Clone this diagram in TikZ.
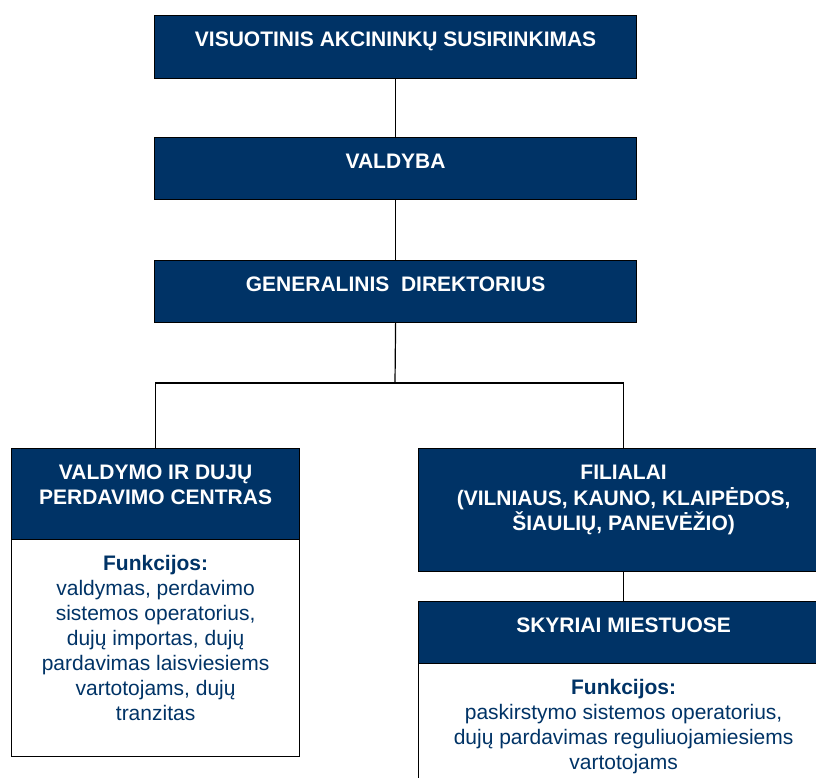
\documentclass[tikz,border=0pt]{standalone}
\usepackage{fontspec}
\setmainfont{Liberation Sans}
\usepackage{xcolor}
\usetikzlibrary{positioning}
\definecolor{cNavy}{RGB}{0,51,102}

% text block of fixed size, set from the top
\newcommand{\boxtext}[3]{\parbox[t][#2][t]{#1}{\centering\vspace{13pt}\strut#3}}

\tikzset{
  hdr/.style={draw=black, line width=1.2pt, fill=cNavy, text=white,
    font=\bfseries\fontsize{21}{25}\selectfont, inner sep=0pt, anchor=north west},
  fbody/.style={draw=black, line width=1.2pt, fill=white, text=cNavy,
    font=\fontsize{21}{25}\selectfont, inner sep=0pt, anchor=north west},
  link/.style={line width=1.2pt}
}

\begin{document}
\begin{tikzpicture}[x=1pt,y=-1pt]
        \useasboundingbox (0,0) rectangle (816,778);
        \clip (0,0) rectangle (816,778);
        % top of the company
        \node[hdr] (vas) at (154,15) {\boxtext{482pt}{63pt}{VISUOTINIS AKCININKŲ SUSIRINKIMAS}};
        \node[hdr] (valdyba) at (154,137) {\boxtext{482pt}{62pt}{VALDYBA}};
        \node[hdr] (gendir) at (154,260) {\boxtext{482pt}{62pt}{GENERALINIS\ \ DIREKTORIUS}};
        \draw[link] (vas.south) -- (valdyba.north);
        \draw[link] (valdyba.south) -- (gendir.north);
        % left branch
        \node[hdr] (centras) at (11,448) {\boxtext{288pt}{91pt}{VALDYMO IR DUJŲ\\PERDAVIMO CENTRAS}};
        \node[fbody] (centrasf) at (11,539) {\boxtext{288pt}{217pt}{\textbf{Funkcijos:}\\valdymas, perdavimo\\sistemos operatorius,\\dujų importas, dujų\\pardavimas laisviesiems\\vartotojams, dujų\\tranzitas}};
        % right branch
        \node[hdr] (filialai) at (418,448) {\boxtext{410pt}{123pt}{FILIALAI\\(VILNIAUS, KAUNO, KLAIPĖDOS,\\ŠIAULIŲ, PANEVĖŽIO)}};
        \node[hdr] (skyriai) at (418,601) {\boxtext{410pt}{62pt}{SKYRIAI MIESTUOSE}};
        \node[fbody] (skyriaif) at (418,663) {\boxtext{410pt}{125pt}{\textbf{Funkcijos:}\\paskirstymo sistemos operatorius,\\dujų pardavimas reguliuojamiesiems\\vartotojams}};
        \draw[link] (filialai.south) -- (skyriai.north);
        % branching
        \coordinate (bus) at (395,383);
        \draw[link] (gendir.south) -- (bus);
        \draw[link] (centras.north) |- (bus) -| (filialai.north);
\end{tikzpicture}
\end{document}
